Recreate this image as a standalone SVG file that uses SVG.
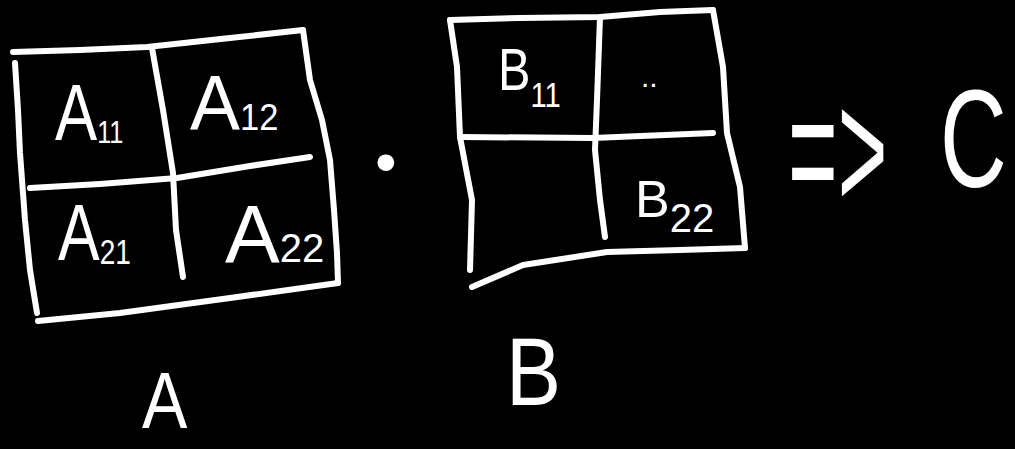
<svg xmlns="http://www.w3.org/2000/svg" width="1015" height="449" viewBox="0 0 1015 449">
<style>
.ln{fill:none;stroke:#fff;stroke-width:6;stroke-linecap:round;stroke-linejoin:round}
.t{fill:#fff;font-family:"Liberation Sans",Arial,sans-serif}
</style>
<rect width="1015" height="449" fill="#000"/>
<g id="matrix-A">
<path class="ln" d="M13,52 L80,50 L147,47 L230,38 L303,30"/>
<path class="ln" d="M303,30 L310,80 L322,120 L330,160 L334,210 L337,253 L338,283"/>
<path class="ln" d="M38,321 L120,313 L230,298 L338,283"/>
<path class="ln" d="M15,63 L18,110 L20,153 L25,220 L30,270 L37,313"/>
<path class="ln" d="M152,48 L163,110 L173,173 L176,230 L183,277"/>
<path class="ln" d="M30,188 L100,184 L177,178 L250,166 L310,157"/>
<text class="t" transform="translate(55,140) scale(0.79,1)"><tspan font-size="80">A</tspan><tspan font-size="32" dy="3">11</tspan></text>
<text class="t" transform="translate(190,130) scale(0.96,1)"><tspan font-size="78">A</tspan><tspan font-size="36">12</tspan></text>
<text class="t" transform="translate(58,260) scale(0.78,1)"><tspan font-size="80">A</tspan><tspan font-size="36" dy="4">21</tspan></text>
<text class="t" transform="translate(225,262)"><tspan font-size="82">A</tspan><tspan font-size="40">22</tspan></text>
</g>
<g id="label-A"><text class="t" transform="translate(142,428) scale(0.85,1)" font-size="80">A</text></g>
<g id="dot"><text class="t" x="375" y="183" font-size="62">•</text></g>
<g id="matrix-B">
<path class="ln" d="M450,20 L520,18 L600,17 L660,12 L713,10"/>
<path class="ln" d="M450,20 L457,67 L460,137 L472,200 L470,270"/>
<path class="ln" d="M713,10 L723,67 L727,133 L740,187 L745,248"/>
<path class="ln" d="M472,287 L523,265 L607,252 L680,250 L745,248"/>
<path class="ln" d="M600,17 L597,100 L595,150 L600,200 L605,237"/>
<path class="ln" d="M460,137 L593,138 L713,133"/>
<text class="t" transform="translate(498,90) scale(0.81,1)"><tspan font-size="60">B</tspan><tspan font-size="36" dy="17">11</tspan></text>
<text class="t" x="641" y="87" font-size="30">..</text>
<text class="t" transform="translate(635,217)"><tspan font-size="52">B</tspan><tspan font-size="40" dy="15">22</tspan></text>
</g>
<g id="label-B"><text class="t" transform="translate(506,405) scale(0.86,1)" font-size="96">B</text></g>
<g id="connectors"><text class="t" transform="translate(788,209) scale(0.5,1)" font-size="170">=&gt;</text></g>
<g id="node-C"><text class="t" transform="translate(940,187) scale(0.66,1)" font-size="140">C</text></g>
</svg>
